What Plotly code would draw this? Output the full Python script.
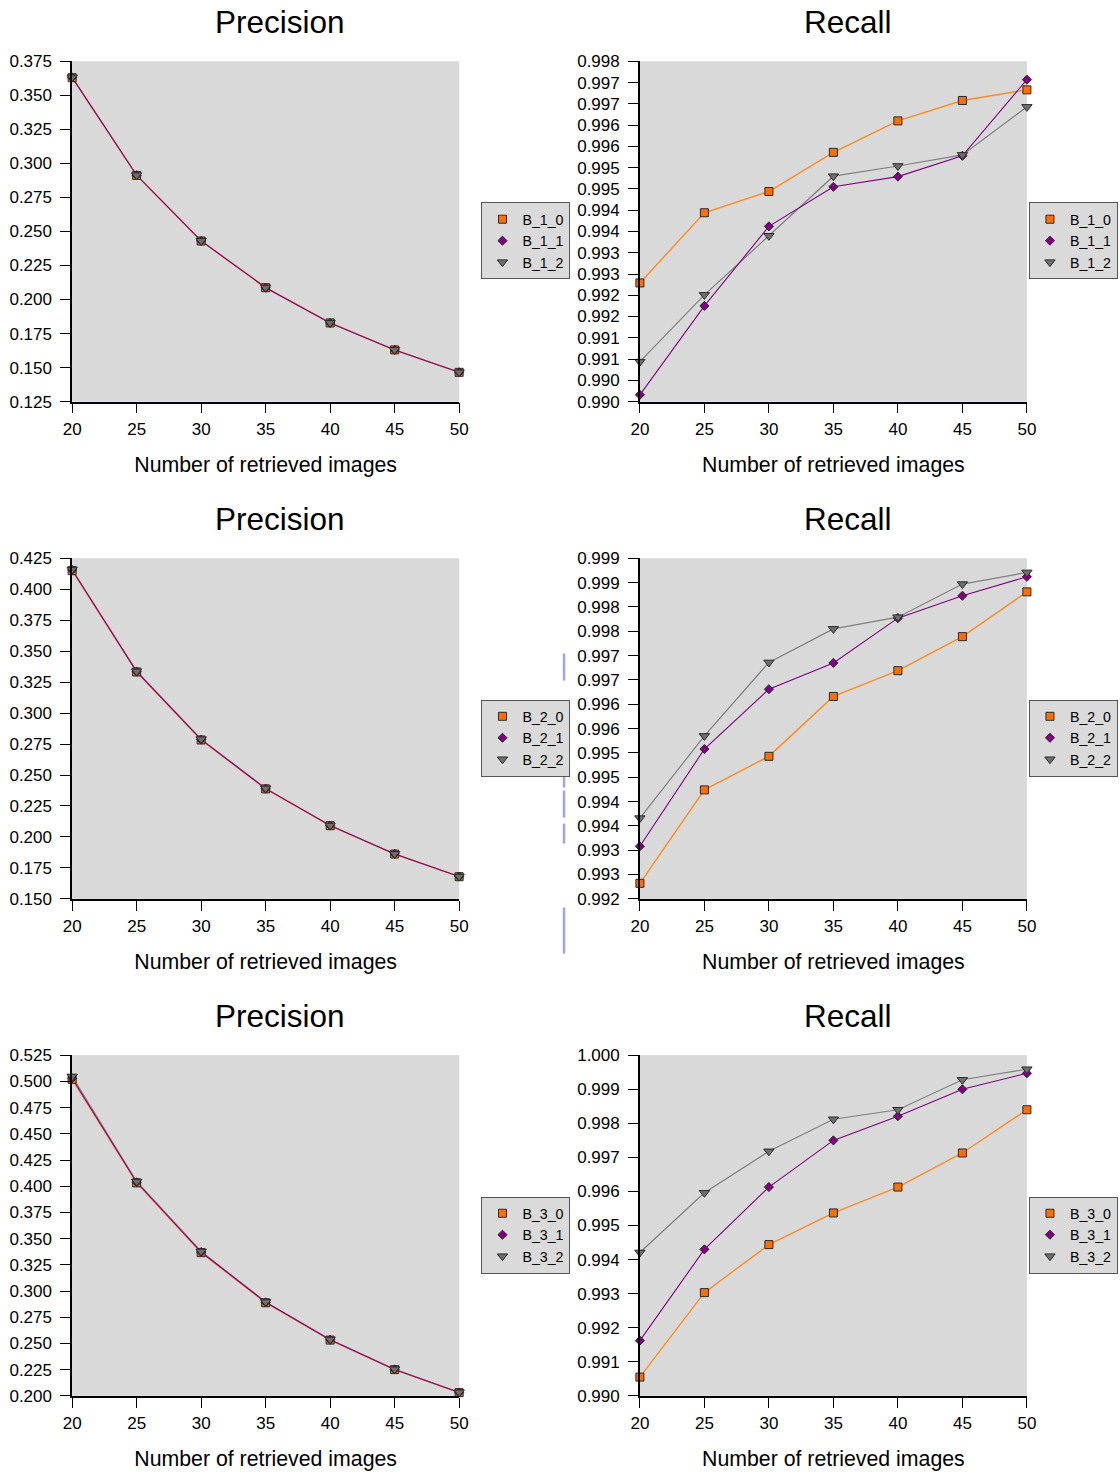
import plotly.graph_objects as go

# ---------------- data ----------------
x_vals = [20, 25, 30, 35, 40, 45, 50]
x_ticks = [20, 25, 30, 35, 40, 45, 50]

names_1 = ["B_1_0", "B_1_1", "B_1_2"]
names_2 = ["B_2_0", "B_2_1", "B_2_2"]
names_3 = ["B_3_0", "B_3_1", "B_3_2"]

prec_1_0 = [0.3630, 0.2912, 0.2430, 0.2087, 0.1828, 0.1630, 0.1465]
prec_1_1 = [0.3632, 0.2913, 0.2431, 0.2087, 0.1828, 0.1630, 0.1466]
prec_1_2 = [0.3633, 0.2914, 0.2432, 0.2088, 0.1829, 0.1631, 0.1466]

prec_2_0 = [0.4150, 0.3332, 0.2783, 0.2388, 0.2091, 0.1862, 0.1679]
prec_2_1 = [0.4156, 0.3335, 0.2786, 0.2390, 0.2092, 0.1863, 0.1680]
prec_2_2 = [0.4160, 0.3338, 0.2790, 0.2392, 0.2093, 0.1864, 0.1681]

prec_3_0 = [0.5020, 0.4032, 0.3366, 0.2888, 0.2532, 0.2250, 0.2030]
prec_3_1 = [0.5030, 0.4038, 0.3372, 0.2892, 0.2535, 0.2252, 0.2032]
prec_3_2 = [0.5048, 0.4045, 0.3378, 0.2896, 0.2538, 0.2254, 0.2034]

rec_1_0 = [0.99279, 0.99444, 0.99494, 0.99586, 0.99660, 0.99708, 0.99733]
rec_1_1 = [0.99016, 0.99225, 0.99412, 0.99505, 0.99529, 0.99578, 0.99757]
rec_1_2 = [0.99094, 0.99251, 0.99390, 0.99530, 0.99554, 0.99580, 0.99693]

rec_2_0 = [0.99232, 0.99424, 0.99493, 0.99616, 0.99669, 0.99739, 0.99831]
rec_2_1 = [0.99308, 0.99508, 0.99631, 0.99685, 0.99777, 0.99823, 0.99862]
rec_2_2 = [0.99366, 0.99535, 0.99686, 0.99755, 0.99779, 0.99847, 0.99871]

rec_3_0 = [0.99055, 0.99303, 0.99444, 0.99537, 0.99613, 0.99713, 0.99840]
rec_3_1 = [0.99162, 0.99430, 0.99613, 0.99750, 0.99821, 0.99900, 0.99947]
rec_3_2 = [0.99421, 0.99596, 0.99718, 0.99812, 0.99840, 0.99928, 0.99959]

prec_ticks_1 = [0.125, 0.150, 0.175, 0.200, 0.225, 0.250, 0.275, 0.300, 0.325, 0.350, 0.375]
prec_ticks_2 = [0.150, 0.175, 0.200, 0.225, 0.250, 0.275, 0.300, 0.325, 0.350, 0.375, 0.400, 0.425]
prec_ticks_3 = [0.200, 0.225, 0.250, 0.275, 0.300, 0.325, 0.350, 0.375, 0.400, 0.425,
                0.450, 0.475, 0.500, 0.525]

rec_ticks_1 = [0.9900, 0.9905, 0.9910, 0.9915, 0.9920, 0.9925, 0.9930, 0.9935, 0.9940,
               0.9945, 0.9950, 0.9955, 0.9960, 0.9965, 0.9970, 0.9975, 0.9980]
rec_labels_1 = ["0.990", "0.990", "0.991", "0.991", "0.992", "0.992", "0.993", "0.993", "0.994",
                "0.994", "0.995", "0.995", "0.996", "0.996", "0.997", "0.997", "0.998"]
rec_ticks_2 = [0.9920, 0.9925, 0.9930, 0.9935, 0.9940, 0.9945, 0.9950, 0.9955, 0.9960,
               0.9965, 0.9970, 0.9975, 0.9980, 0.9985, 0.9990]
rec_labels_2 = ["0.992", "0.993", "0.993", "0.994", "0.994", "0.995", "0.995", "0.996", "0.996",
                "0.997", "0.997", "0.998", "0.998", "0.999", "0.999"]
rec_ticks_3 = [0.990, 0.991, 0.992, 0.993, 0.994, 0.995, 0.996, 0.997, 0.998, 0.999, 1.000]
rec_labels_3 = ["0.990", "0.991", "0.992", "0.993", "0.994", "0.995", "0.996", "0.997",
                "0.998", "0.999", "1.000"]

titles = ["Precision", "Recall"]
x_title = "Number of retrieved images"

# ---------------- styling ----------------
W, H = 1130, 1485
# measured placement of the figure in the photographed page (body margin removed)
AX, BX = 0.9833, 8.9
AY, BY = 0.9873, 8.35
FONT = "Liberation Sans, Arial, Helvetica, sans-serif"
line_colors = ["#FF8A1F", "#800080", "#7F7F7F"]
line_widths = [1.4, 1.1, 1.2]
fill_colors = ["#FF6E00", "#800080", "#6E6E6E"]
symbols = ["square", "diamond", "triangle-down"]
sizes = [8, 7, 9]
line_order = [2, 0, 1]


def px_x(p):
    return ((p - BX) / AX) / W


def px_y(p):
    return 1 - ((p - BY) / AY) / H


col_dom = [(72, 458.7), (639.3, 1026)]
row_dom = [(60.7, 401), (557.7, 898.3), (1054.7, 1395.3)]

blocks = [
    (names_1, [prec_1_0, prec_1_1, prec_1_2], [rec_1_0, rec_1_1, rec_1_2],
     prec_ticks_1, rec_ticks_1, rec_labels_1),
    (names_2, [prec_2_0, prec_2_1, prec_2_2], [rec_2_0, rec_2_1, rec_2_2],
     prec_ticks_2, rec_ticks_2, rec_labels_2),
    (names_3, [prec_3_0, prec_3_1, prec_3_2], [rec_3_0, rec_3_1, rec_3_2],
     prec_ticks_3, rec_ticks_3, rec_labels_3),
]

fig = go.Figure()
layout = dict(
    width=W, height=H,
    margin=dict(l=0, r=0, t=0, b=0),
    paper_bgcolor="white",
    font=dict(family=FONT, color="black", size=17),
    showlegend=True,
    annotations=[], shapes=[],
)

axis_n = 0
for r, (names, precs, recs, pticks, rticks, rlabels) in enumerate(blocks):
    for c in range(2):
        axis_n += 1
        xa = "x" if axis_n == 1 else f"x{axis_n}"
        ya = "y" if axis_n == 1 else f"y{axis_n}"
        lg = "legend" if axis_n == 1 else f"legend{axis_n}"
        data = precs if c == 0 else recs
        for i in line_order:
            fig.add_trace(go.Scatter(
                x=x_vals, y=data[i], mode="lines", xaxis=xa, yaxis=ya,
                line=dict(color=line_colors[i], width=line_widths[i]),
                showlegend=False, hoverinfo="skip", cliponaxis=False))
        for i in range(3):
            fig.add_trace(go.Scatter(
                x=x_vals, y=data[i], mode="markers", xaxis=xa, yaxis=ya,
                name=names[i], legend=lg, cliponaxis=False,
                marker=dict(symbol=symbols[i], size=sizes[i], color=fill_colors[i],
                            line=dict(color="#2a2a2a", width=1))))

        x0, x1 = col_dom[c]
        y0, y1 = row_dom[r]
        xkey = "xaxis" if axis_n == 1 else f"xaxis{axis_n}"
        ykey = "yaxis" if axis_n == 1 else f"yaxis{axis_n}"
        layout[xkey] = dict(
            domain=[px_x(x0), px_x(x1)], anchor=ya, range=[20, 50],
            tickmode="array", tickvals=x_ticks, ticktext=[str(t) for t in x_ticks],
            ticks="outside", ticklen=10, tickwidth=1.2, tickcolor="black",
            showline=True, linecolor="black", linewidth=1.5,
            showgrid=False, zeroline=False, tickfont=dict(size=17),
            ticklabelstandoff=1,
            title=dict(text=x_title, font=dict(size=21.3), standoff=19),
        )
        if c == 0:
            tv = pticks
            tt = [f"{t:.3f}" for t in pticks]
        else:
            tv = rticks
            tt = rlabels
        layout[ykey] = dict(
            domain=[px_y(y1), px_y(y0)], anchor=xa, range=[tv[0], tv[-1]],
            tickmode="array", tickvals=tv, ticktext=tt,
            ticks="outside", ticklen=10, tickwidth=1.2, tickcolor="black",
            showline=True, linecolor="black", linewidth=1.5,
            showgrid=False, zeroline=False, tickfont=dict(size=17),
            ticklabelstandoff=5,
        )
        layout[lg] = dict(
            x=px_x(1117) if c == 1 else px_x(481), xanchor="right" if c == 1 else "left",
            y=px_y((y0 + y1) / 2 + 9.5), yanchor="middle",
            bgcolor="#DADADA", bordercolor="#555555", borderwidth=1,
            font=dict(size=14.2, family=FONT), itemwidth=30,
            tracegroupgap=0,
        )
        layout["shapes"].append(dict(
            type="rect", xref=f"{xa} domain", yref=f"{ya} domain",
            x0=0, x1=1, y0=0, y1=1, fillcolor="#D9D9D9", line=dict(width=0),
            layer="below"))
        layout["annotations"].append(dict(
            text=titles[c], xref="paper", yref="paper",
            x=px_x(280 if c == 0 else 847), y=px_y(y0 - 39),
            xanchor="center", yanchor="middle", showarrow=False,
            font=dict(size=31.5, family=FONT, color="black")))

# faint blue artefact between the columns
for (a, b) in [(653, 680), (763, 787), (790, 817), (823, 843), (907, 953)]:
    layout["shapes"].append(dict(
        type="line", xref="paper", yref="paper",
        x0=px_x(563.5), x1=px_x(563.5), y0=px_y(a), y1=px_y(b),
        line=dict(color="#93A8EE", width=2.5)))

fig.update_layout(**layout)
fig.write_html("out.html", config={"displayModeBar": False},
               post_script="document.body.style.margin='0';")
